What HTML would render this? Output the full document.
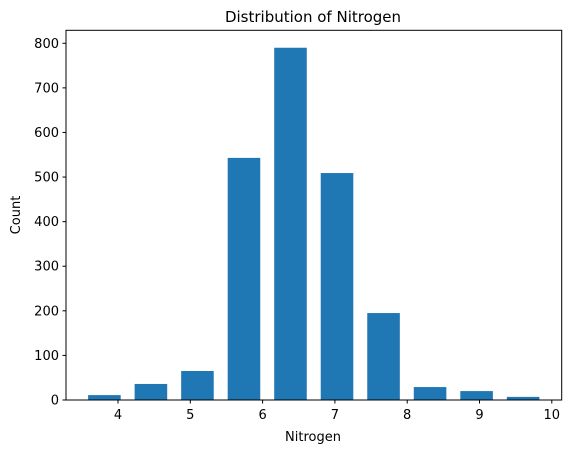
<!DOCTYPE html>
<html><head><meta charset="utf-8"><style>
body{margin:0;background:#fff;font-family:"Liberation Sans","DejaVu Sans",sans-serif;}
svg text{font-family:"DejaVu Sans","Liberation Sans",sans-serif;fill:#000;}
</style></head><body>
<svg id="c" width="571" height="453">
<text x="313" y="22" font-size="15" text-anchor="middle">Distribution of Nitrogen</text>
<text x="313" y="441" font-size="13" text-anchor="middle">Nitrogen</text>
<text x="20" y="215" font-size="13" text-anchor="middle" transform="rotate(-90 20 215)">Count</text>
<g id="bars"></g><g id="axes"></g>
</svg>
<script>
const counts=[11,36,65,543,790,509,195,29,20,7];
const binStart=3.49;
const binWidth=0.6435;
const xTicks=[4,5,6,7,8,9,10];
const yTicks=[0,100,200,300,400,500,600,700,800];
const L=66,R=561.7,T=30.3,B=400;
const xs=v=>118+(v-4)*72.3;
const ys=v=>400-v*0.4459;
const ns="http://www.w3.org/2000/svg";
const bars=document.getElementById('bars'),axes=document.getElementById('axes');
function mk(tag,attrs,parent){const e=document.createElementNS(ns,tag);for(const k in attrs)e.setAttribute(k,attrs[k]);parent.appendChild(e);return e;}
counts.forEach((c,i)=>{
  const x0=xs(binStart+(i+0.15)*binWidth),x1=xs(binStart+(i+0.85)*binWidth);
  const r=mk('rect',{x:x0,y:ys(c),width:x1-x0,height:ys(0)-ys(c),fill:'#1f77b4'},bars);
  
  
});
const f=mk('rect',{x:L,y:T,width:R-L,height:B-T,fill:'none',stroke:'#000','stroke-width':1},axes);


xTicks.forEach(t=>{
  const x=xs(t);
  mk('line',{x1:x,x2:x,y1:B,y2:B+3.5,stroke:'#000'},axes);
  const tx=mk('text',{x:x,y:B+19,'font-size':13,'text-anchor':'middle'},axes);
  tx.textContent=t;
  
  
});
yTicks.forEach(t=>{
  const y=ys(t);
  mk('line',{x1:L-3.5,x2:L,y1:y,y2:y,stroke:'#000'},axes);
  const tx=mk('text',{x:L-7,y:y+4.5,'font-size':13,'text-anchor':'end'},axes);
  tx.textContent=t;
  
  
});
</script>
</body></html>
